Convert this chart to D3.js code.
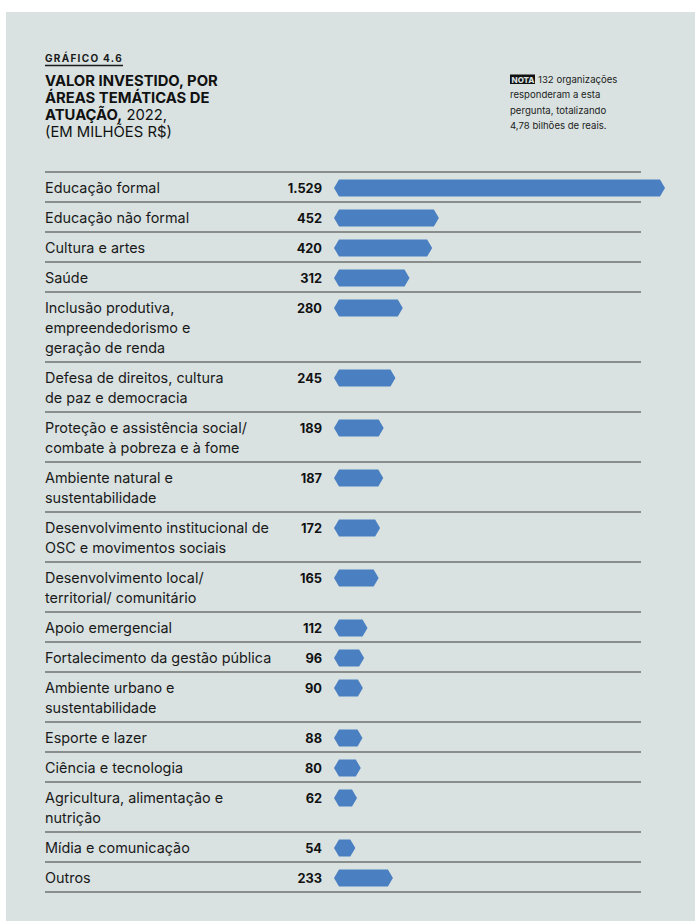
<!DOCTYPE html>
<html>
<head>
<meta charset="utf-8">
<script src="https://cdn.jsdelivr.net/npm/d3@7"></script>
<style>
  body { margin: 0; background: #ffffff; }
  svg { display: block; font-family: Inter, "Noto Sans", sans-serif; }
</style>
</head>
<body>
<div id="chart"></div>
<script>
// Data
const categories = [
  ["Educação formal"],
  ["Educação não formal"],
  ["Cultura e artes"],
  ["Saúde"],
  ["Inclusão produtiva,", "empreendedorismo e", "geração de renda"],
  ["Defesa de direitos, cultura", "de paz e democracia"],
  ["Proteção e assistência social/", "combate à pobreza e à fome"],
  ["Ambiente natural e", "sustentabilidade"],
  ["Desenvolvimento institucional de", "OSC e movimentos sociais"],
  ["Desenvolvimento local/", "territorial/ comunitário"],
  ["Apoio emergencial"],
  ["Fortalecimento da gestão pública"],
  ["Ambiente urbano e", "sustentabilidade"],
  ["Esporte e lazer"],
  ["Ciência e tecnologia"],
  ["Agricultura, alimentação e", "nutrição"],
  ["Mídia e comunicação"],
  ["Outros"]
];
const values = [1529, 452, 420, 312, 280, 245, 189, 187, 172, 165, 112, 96, 90, 88, 80, 62, 54, 233];
const valueLabels = ["1.529", "452", "420", "312", "280", "245", "189", "187", "172", "165", "112", "96", "90", "88", "80", "62", "54", "233"];
const titleLines = ["VALOR INVESTIDO, POR", "ÁREAS TEMÁTICAS DE"];
const noteLines = ["132 organizações", "responderam a esta", "pergunta, totalizando", "4,78 bilhões de reais."];

const width = 695;
const height = 921;
const left = 45;
const lineEnd = 641;
const barStart = 339;
const tip = 5;
const barH = 17;
const top0 = 172;

const svg = d3.select("#chart").append("svg")
  .attr("width", width)
  .attr("height", height);

svg.append("rect")
  .attr("x", 6).attr("y", 12)
  .attr("width", width - 6).attr("height", height - 12)
  .attr("fill", "#d9e2e1");

// Header
svg.append("text")
  .attr("x", left).attr("y", 62)
  .attr("font-size", 10).attr("font-weight", 700)
  .attr("letter-spacing", 1.3)
  .attr("fill", "#1a1a1a")
  .text("GRÁFICO 4.6");
svg.append("line")
  .attr("x1", left).attr("x2", 123)
  .attr("y1", 65.5).attr("y2", 65.5)
  .attr("stroke", "#1a1a1a").attr("stroke-width", 1.3);

titleLines.forEach((t, i) => {
  svg.append("text")
    .attr("x", left).attr("y", 86 + i * 17)
    .attr("font-size", 14.8).attr("font-weight", 700)
    .attr("fill", "#111")
    .text(t);
});
const t3 = svg.append("text")
  .attr("x", left).attr("y", 120)
  .attr("font-size", 14.8).attr("fill", "#111");
t3.append("tspan").attr("font-weight", 700).text("ATUAÇÃO,");
t3.append("tspan").text(" 2022,");
svg.append("text")
  .attr("x", left).attr("y", 137)
  .attr("font-size", 14.8).attr("fill", "#111")
  .text("(EM MILHÕES R$)");

// Note
svg.append("rect")
  .attr("x", 510).attr("y", 74.5)
  .attr("width", 25).attr("height", 9.5)
  .attr("fill", "#111");
svg.append("text")
  .attr("x", 511.5).attr("y", 82.5)
  .attr("font-size", 8).attr("font-weight", 800)
  .attr("fill", "#d9e2e1")
  .text("NOTA");
noteLines.forEach((t, i) => {
  svg.append("text")
    .attr("x", i === 0 ? 538 : 510).attr("y", 83 + i * 15.3)
    .attr("font-size", 9.6).attr("fill", "#222")
    .text(t);
});

// Rows
const rowH = categories.map(c => 30 + 20 * (c.length - 1));
const rowTop = [];
rowH.reduce((acc, h, i) => { rowTop[i] = acc; return acc + h; }, top0);
const rows = categories.map((c, i) => ({ lines: c, value: values[i], label: valueLabels[i], y: rowTop[i], h: rowH[i] }));

const x = d3.scaleLinear()
  .domain([0, d3.max(values)])
  .range([0, 660 - barStart]);

svg.append("line")
  .attr("x1", left).attr("x2", lineEnd)
  .attr("y1", top0).attr("y2", top0)
  .attr("stroke", "#3a3a3a").attr("stroke-width", 1.2);

const g = svg.selectAll("g.row").data(rows).enter().append("g")
  .attr("class", "row")
  .attr("transform", d => "translate(0," + d.y + ")");

g.append("line")
  .attr("x1", left).attr("x2", lineEnd)
  .attr("y1", d => d.h).attr("y2", d => d.h)
  .attr("stroke", "#3a3a3a").attr("stroke-width", 1.2);

g.each(function (d) {
  const sel = d3.select(this);
  d.lines.forEach((t, j) => {
    sel.append("text")
      .attr("x", left).attr("y", 21 + j * 20)
      .attr("font-size", 14.4).attr("fill", "#1a1a1a")
      .text(t);
  });
});

g.append("text")
  .attr("x", 322).attr("y", 21)
  .attr("text-anchor", "end")
  .attr("font-size", 12.8).attr("font-weight", 700)
  .attr("fill", "#111")
  .text(d => d.label);

g.append("path")
  .attr("fill", "#4a80c2")
  .attr("d", d => {
    const c = 16;
    const x0 = barStart, x1 = barStart + x(d.value);
    const y0 = c - barH / 2, y1 = c + barH / 2;
    return "M" + (x0 - tip) + "," + c +
      "L" + x0 + "," + y0 + "L" + x1 + "," + y0 +
      "L" + (x1 + tip) + "," + c +
      "L" + x1 + "," + y1 + "L" + x0 + "," + y1 + "Z";
  });
</script>
</body>
</html>
